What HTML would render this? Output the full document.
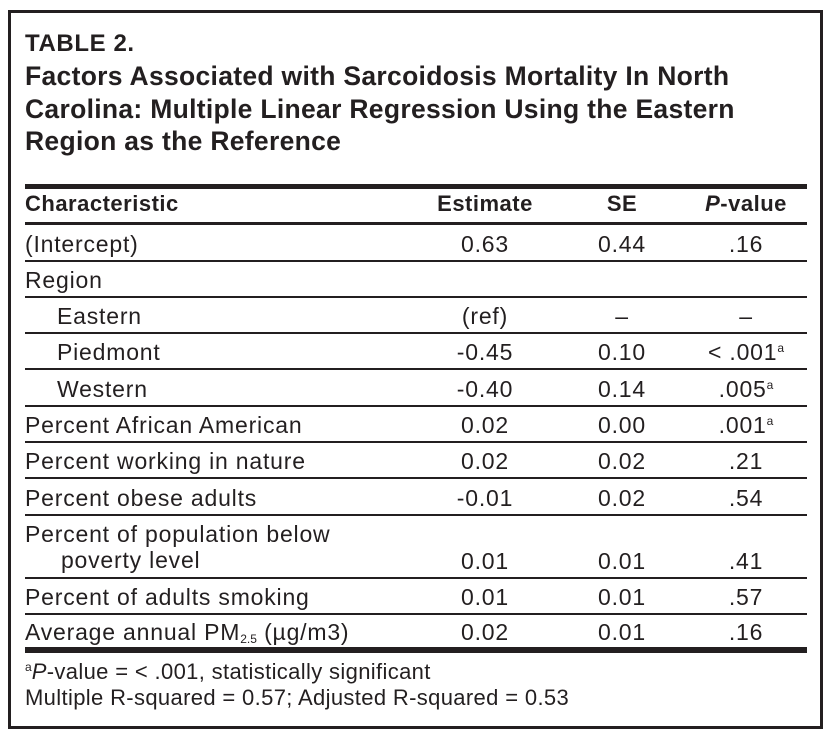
<!DOCTYPE html>
<html><head><meta charset="utf-8"><style>
body{margin:0;width:832px;height:739px;background:#fff;font-family:"Liberation Sans",sans-serif;color:#231f20;position:relative;overflow:hidden}
.frame{position:absolute;left:8px;top:10px;width:809px;height:713px;border:3px solid #231f20}
.t{position:absolute;white-space:nowrap;font-size:23px;line-height:26px;letter-spacing:0.8px}
.b{font-weight:bold}
.h{font-size:22px;letter-spacing:0.5px}
.f{font-size:22px;letter-spacing:0.35px}
.r{position:absolute;left:25px;width:782px;background:#231f20}
.c{text-align:center;width:140px}
sup{font-size:12px;vertical-align:8px;line-height:0;letter-spacing:0}
sub{font-size:12px;vertical-align:-3px;line-height:0;letter-spacing:0}
</style></head><body>
<div class="frame"></div>
<div class="t b" style="left:25px;top:31px;font-size:24px;letter-spacing:0.6px">TABLE 2.</div>
<div class="t b" style="left:25px;top:60px;font-size:26.5px;line-height:32.5px;letter-spacing:0.3px">Factors Associated with Sarcoidosis Mortality In North<br>Carolina: Multiple Linear Regression Using the Eastern<br>Region as the Reference</div>
<div class="r" style="top:184px;height:5px"></div>
<div class="t b h" style="left:25px;top:191px">Characteristic</div>
<div class="t b h c" style="left:415px;top:191px">Estimate</div>
<div class="t b h c" style="left:552px;top:191px">SE</div>
<div class="t b h c" style="left:676px;top:191px"><i>P</i>-value</div>
<div class="r" style="top:222px;height:3px"></div>
<div id="rows"></div>
<div class="r" style="top:647px;height:6px"></div>
<div class="t f" style="left:25px;top:659px"><sup>a</sup><i>P</i>-value = &lt; .001, statistically significant</div>
<div class="t f" style="left:25px;top:685px">Multiple R-squared = 0.57; Adjusted R-squared = 0.53</div>
<script>
const labels=["(Intercept)","Region","Eastern","Piedmont","Western","Percent African American","Percent working in nature","Percent obese adults","Percent of population below<br>&nbsp;&nbsp;&nbsp;&nbsp;&nbsp;poverty level","Percent of adults smoking","Average annual PM<sub>2.5</sub> (µg/m3)"];
const indent=[0,0,1,1,1,0,0,0,0,0,0];
const estimates=["0.63","","(ref)","-0.45","-0.40","0.02","0.02","-0.01","0.01","0.01","0.02"];
const ses=["0.44","","–","0.10","0.14","0.00","0.02","0.02","0.01","0.01","0.01"];
const pvals=[".16","","–","&lt; .001<sup>a</sup>",".005<sup>a</sup>",".001<sup>a</sup>",".21",".54",".41",".57",".16"];
const heights=[36,36,36,36,36.5,36.5,36,36.5,63,36,35];
const root=document.getElementById('rows');
let y=225;
labels.forEach((lab,i)=>{
  const h=heights[i];
  const ty=y+h-30;
  const l=document.createElement('div');l.className='t';
  
  
  l.style.left=(indent[i]?57:25)+'px';
  l.style.top=(i===8?y+6:ty)+'px';
  l.innerHTML=lab;root.appendChild(l);
  [[estimates,415,'estimate-cell'],[ses,552,'se-cell'],[pvals,676,'p-value-cell']].forEach(([arr,x,nm])=>{
    const d=document.createElement('div');d.className='t c';
    
    
    d.style.left=x+'px';d.style.top=ty+'px';d.innerHTML=arr[i];root.appendChild(d);
  });
  y+=h;
  if(i<labels.length-1){
    const r=document.createElement('div');r.className='r';
    
    
    r.style.top=(y-1)+'px';r.style.height='2px';root.appendChild(r);
  }
});
</script>
</body></html>
